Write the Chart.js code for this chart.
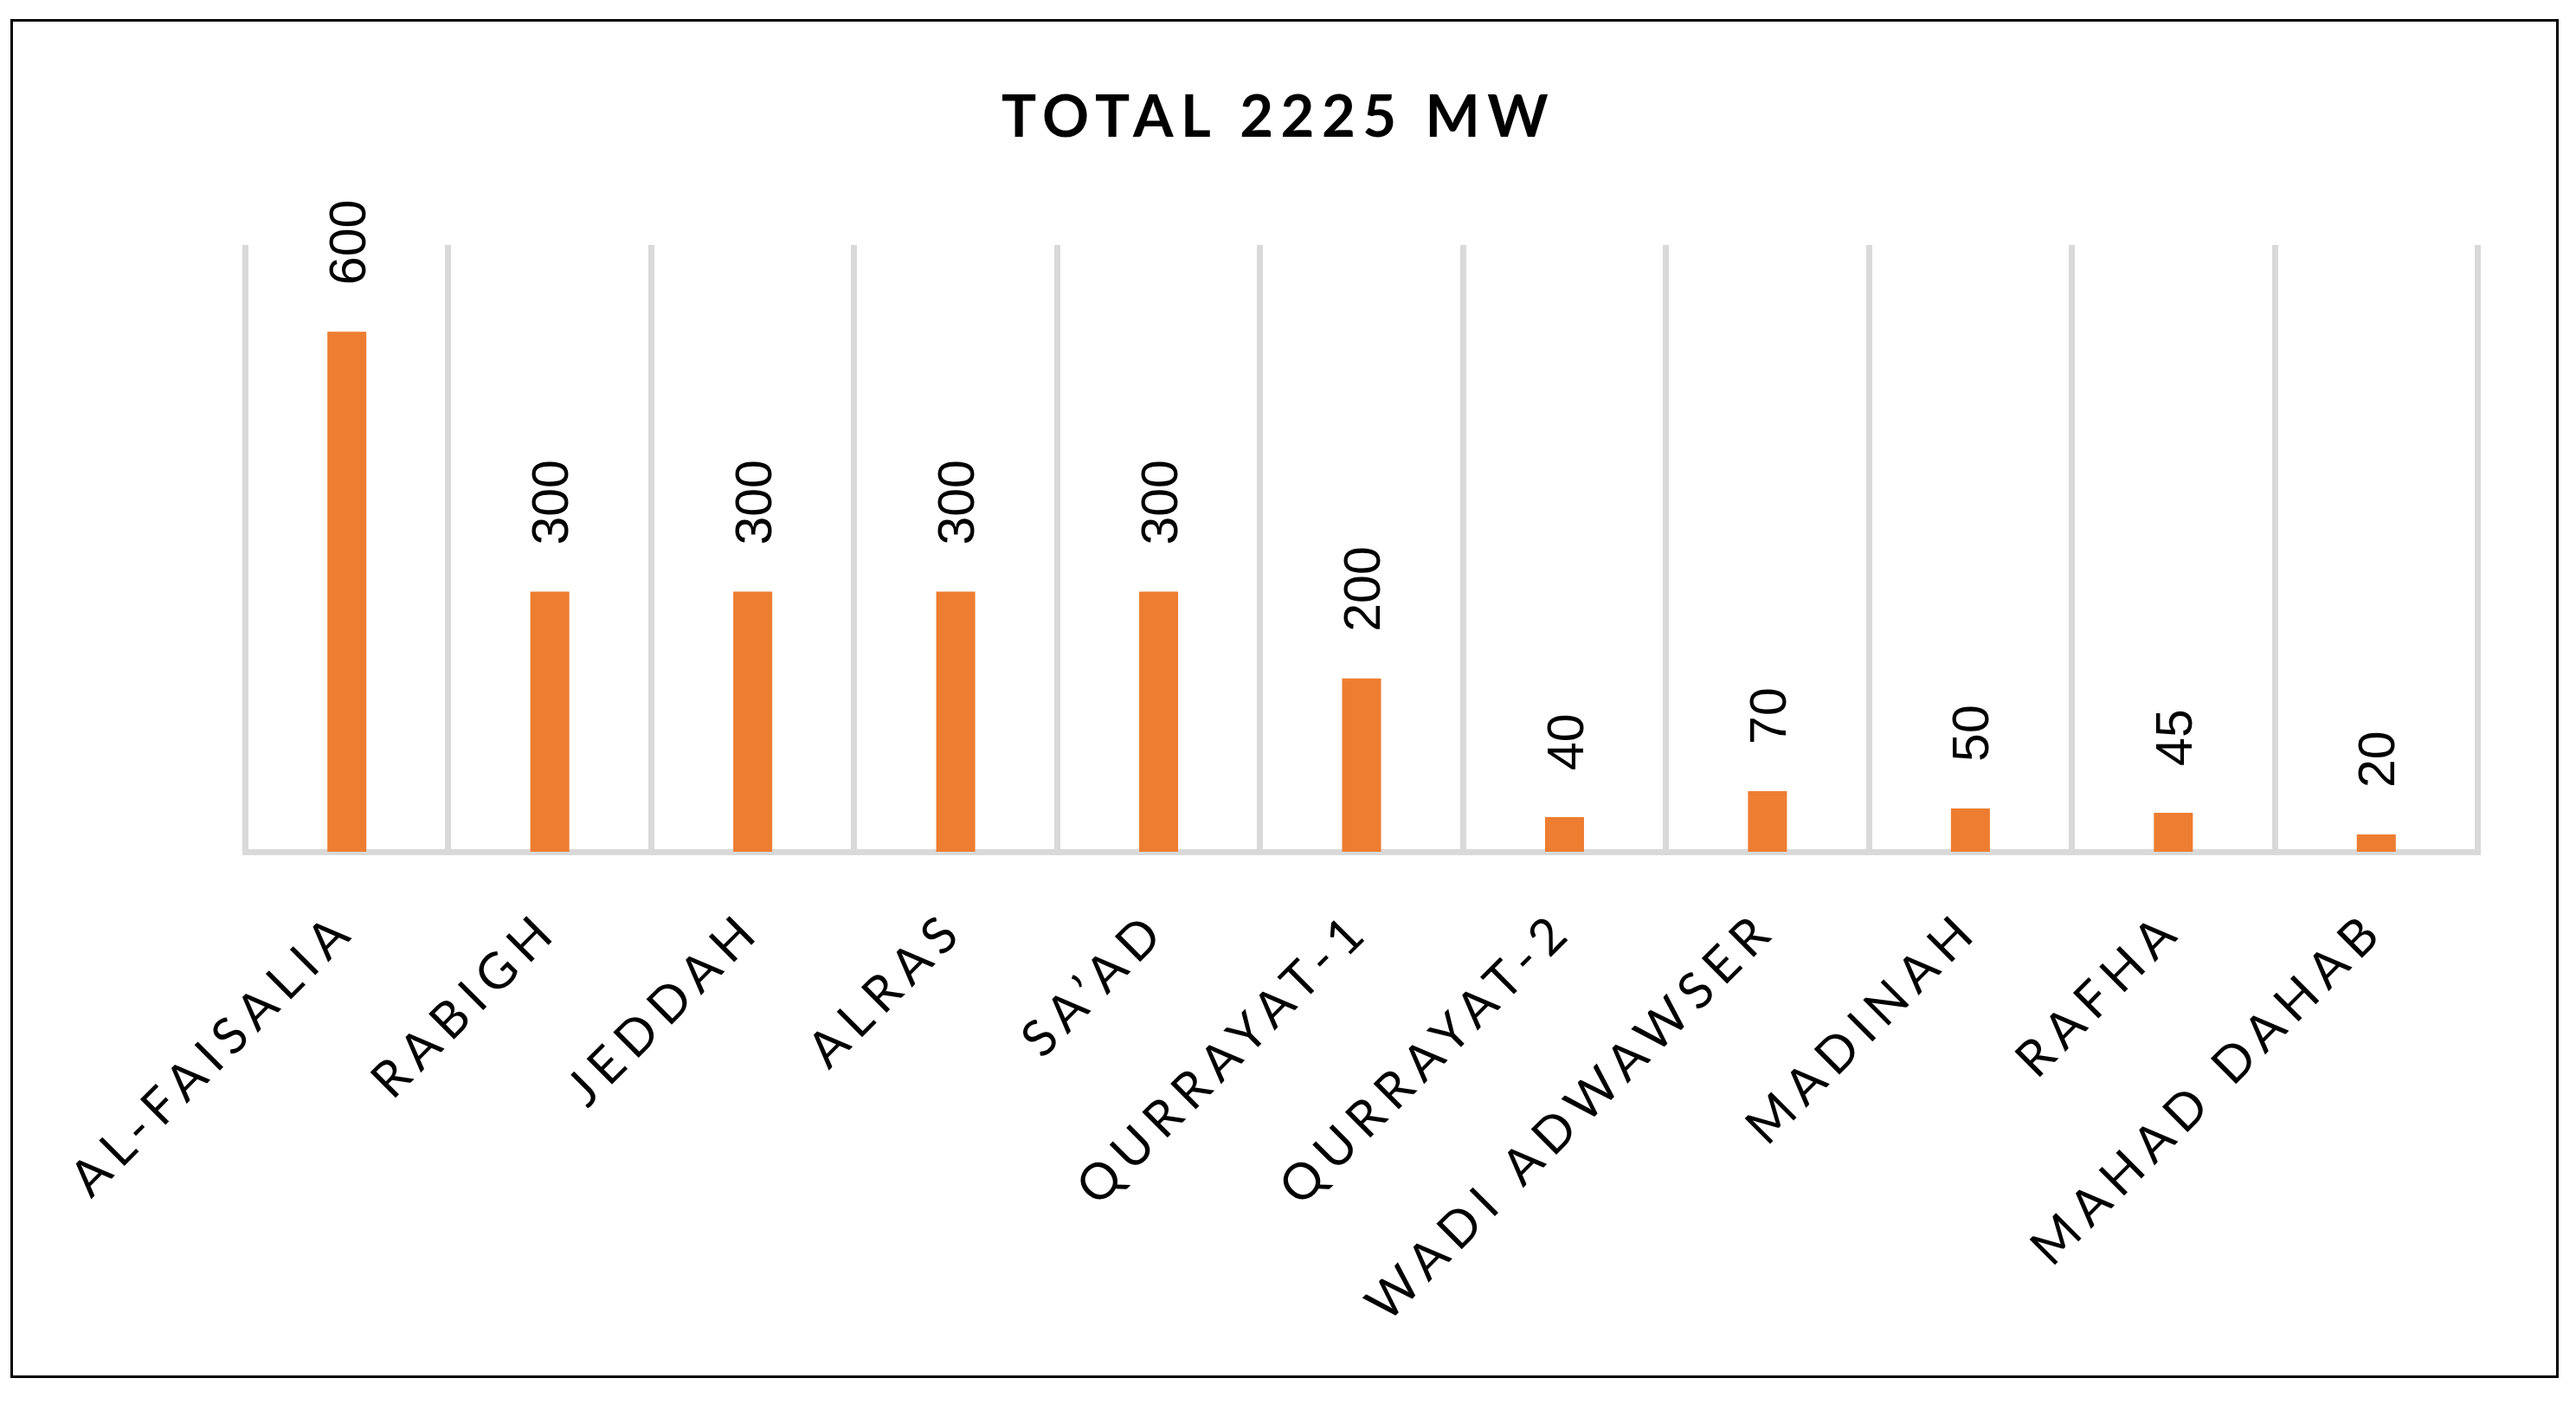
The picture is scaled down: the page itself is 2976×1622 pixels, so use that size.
<!DOCTYPE html>
<html>
<head>
<meta charset="utf-8">
<script src="https://cdn.jsdelivr.net/npm/chart.js@4.4.1/dist/chart.umd.min.js"></script>
<style>
  html, body { margin: 0; padding: 0; background: #ffffff; }
  canvas { display: block; }
</style>
</head>
<body>
<canvas id="c" width="2976" height="1622"></canvas>
<script>
const chartTitle = 'TOTAL 2225 MW';
const categories = ['AL-FAISALIA', 'RABIGH', 'JEDDAH', 'ALRAS', 'SA\u2019AD', 'QURRAYAT-1', 'QURRAYAT-2', 'WADI ADWAWSER', 'MADINAH', 'RAFHA', 'MAHAD DAHAB'];
const capacityMW = [600, 300, 300, 300, 300, 200, 40, 70, 50, 45, 20];
const yMin = 0;
const yMax = 700;

const BAR_COLOR = '#ED7D31';
const GRID_COLOR = '#D9D9D9';

const framePlugin = {
  id: 'frame',
  beforeDraw(chart) {
    const ctx = chart.ctx;
    ctx.save();
    ctx.fillStyle = '#ffffff';
    ctx.fillRect(0, 0, chart.width, chart.height);
    ctx.restore();
    // letter spacing used by the category tick labels
    ctx.letterSpacing = '10px';
  },
  afterDraw(chart) {
    const ctx = chart.ctx;
    ctx.save();
    ctx.letterSpacing = '0px';
    ctx.strokeStyle = '#000000';
    ctx.lineWidth = 3;
    ctx.strokeRect(13.5, 23.5, 2941, 1567);
    // title
    ctx.font = 'bold 67px Lato';
    ctx.letterSpacing = '8.5px';
    ctx.fillStyle = '#000000';
    ctx.textAlign = 'left';
    ctx.textBaseline = 'alphabetic';
    ctx.fillText(chartTitle, 1157, 158);
    ctx.restore();
  }
};

const valueLabelPlugin = {
  id: 'valueLabels',
  afterDatasetsDraw(chart) {
    const ctx = chart.ctx;
    const meta = chart.getDatasetMeta(0);
    const fs = 59;
    ctx.save();
    ctx.letterSpacing = '0px';
    ctx.font = fs + 'px "Liberation Sans"';
    ctx.fillStyle = '#000000';
    ctx.textAlign = 'left';
    ctx.textBaseline = 'alphabetic';
    meta.data.forEach((bar, i) => {
      ctx.save();
      ctx.translate(bar.x, bar.y - 54);
      ctx.rotate(-Math.PI / 2);
      ctx.fillText(String(capacityMW[i]), 0, fs * 0.716 / 2);
      ctx.restore();
    });
    ctx.restore();
  }
};

new Chart(document.getElementById('c'), {
  type: 'bar',
  data: {
    labels: categories,
    datasets: [{
      data: capacityMW,
      backgroundColor: BAR_COLOR,
      borderWidth: 0,
      barPercentage: 0.192,
      categoryPercentage: 1.0
    }]
  },
  options: {
    responsive: false,
    animation: false,
    devicePixelRatio: 1,
    layout: { padding: { left: 283.5, right: 113.5, top: 283, bottom: 0 } },
    plugins: {
      legend: { display: false },
      tooltip: { enabled: false },
      title: { display: false }
    },
    scales: {
      x: {
        offset: true,
        grid: { display: true, color: GRID_COLOR, lineWidth: 7, drawTicks: false, offset: true },
        border: { display: true, color: GRID_COLOR, width: 7 },
        ticks: {
          color: '#000000',
          font: { family: 'Lato', size: 58, weight: 'normal' },
          padding: 55,
          minRotation: 45,
          maxRotation: 45,
          autoSkip: false
        },
        afterFit(scale) { scale.height = 638; }
      },
      y: {
        display: false,
        min: yMin,
        max: yMax
      }
    }
  },
  plugins: [framePlugin, valueLabelPlugin]
});
</script>
</body>
</html>
